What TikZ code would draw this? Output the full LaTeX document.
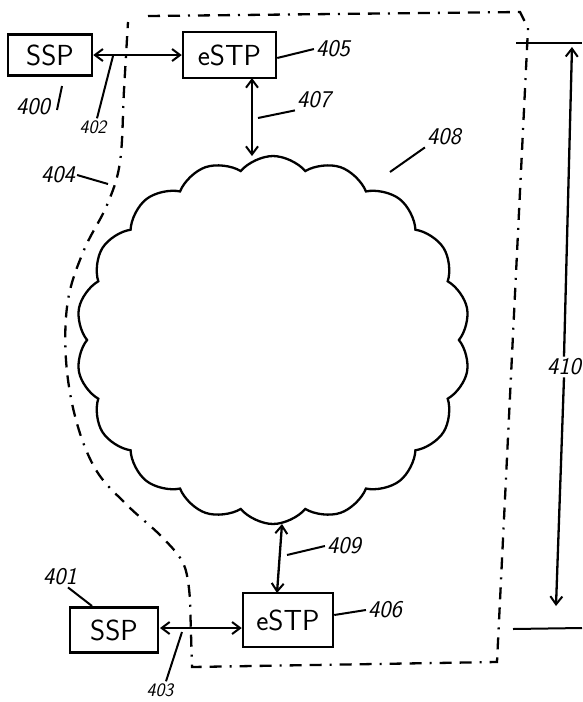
\documentclass[tikz,border=0pt]{standalone}
\usepackage{fontspec}
\usetikzlibrary{arrows.meta,shapes.symbols}
\begin{document}
\begin{tikzpicture}[x=1pt,y=-1pt,
  line width=2.3pt,
  >={Straight Barb[length=8pt,width=12pt,line width=2pt]},
  box/.style={draw,line width=2.5pt,inner sep=0pt,font=\sffamily\fontsize{29}{29}\selectfont},
  lab/.style={font=\sffamily\itshape\fontsize{24}{24}\selectfont,inner sep=1pt},
  smalllab/.style={font=\sffamily\itshape\fontsize{19}{19}\selectfont,inner sep=1pt},
  leader/.style={line width=2pt},
  boundary/.style={line width=2.3pt,dash pattern=on 12pt off 8pt on 12pt off 8pt on 2pt off 8pt}]
\useasboundingbox (0,0) rectangle (582,702);
% boxes
\node[box,minimum width=84pt,minimum height=41pt] (ssp1) at (50,55) {SSP};
\node[box,minimum width=93pt,minimum height=46pt] (estp1) at (229.5,55) {eSTP};
\node[box,minimum width=88pt,minimum height=45pt] (ssp2) at (114,630) {SSP};
\node[box,minimum width=90pt,minimum height=54pt] (estp2) at (288,620) {eSTP};
% cloud
\node[draw,cloud,cloud puffs=18,cloud puff arc=100,aspect=1.07,minimum width=394pt,minimum height=368pt,line width=2.3pt] (cloud) at (273,340) {};
% boundary 404
\draw[boundary] (148,16) -- (520,12) -- (528,28) -- (497,662) -- (192,667) -- (190,600)
  -- plot[smooth,tension=0.6] coordinates {(190,600) (184,565) (162,537) (127,505) (96,470) (76,420) (66,360) (68,300) (84,250) (107,205) (120,162) (124,90) (128,22)};
% connectors
\draw[<->] (ssp1.east) -- (estp1.west);
\coordinate (a407) at (252,156);
\coordinate (b407) at (252,78);
\draw[<->] (b407) -- (a407);
\coordinate (a409) at (282,524);
\coordinate (b409) at (277,593);
\draw[<->] (a409) -- (b409);
\coordinate (a403) at (160,628);
\draw[<->] (a403) -- (estp2.west |- a403);
% labels and leaders
\node[lab] (l400) at (33,107) {400};
\coordinate (t400a) at (57,110); \coordinate (t400b) at (62,86);
\draw[leader] (t400a) -- (t400b);
\node[smalllab] (l402) at (93,127) {402};
\coordinate (p402) at (113,56);
\draw[leader] (l402.north) ++(4,0) coordinate (q402) (q402) -- (p402);
\node[lab] (l404) at (58,175) {404};
\coordinate (p404) at (108,184);
\draw[leader] (l404.east) -- (p404);
\node[lab] (l405) at (333,49) {405};
\draw[leader] (estp1.east) ++(0,3) coordinate (q405) (q405) -- (l405.west);
\node[lab] (l407) at (314,100) {407};
\coordinate (p407) at (258,118);
\draw[leader] (p407) -- (l407.south west);
\node[lab] (l408) at (444,137) {408};
\coordinate (p408) at (390,172);
\draw[leader] (p408) -- (l408.south west);
\node[lab] (l409) at (344,546) {409};
\coordinate (p409) at (287,555);
\draw[leader] (p409) -- (l409.west);
\node[lab] (l406) at (385,610) {406};
\draw[leader] (estp2.east) ++(0,-5) coordinate (q406) (q406) -- (l406.west);
\node[lab] (l401) at (60,577) {401};
\coordinate (p401) at (92,606);
\draw[leader] (l401.south) ++(8,0) coordinate (q401) (q401) -- (p401);
\node[smalllab] (l403) at (160,690) {403};
\coordinate (p403) at (182,632);
\draw[leader] (l403.north) ++(6,0) coordinate (q403) (q403) -- (p403);
% dimension 410
\node[lab] (l410) at (564,367) {410};
\coordinate (dtop) at (572,47);
\coordinate (dbot) at (556,606);
\draw[->] (l410.north) -- (dtop);
\draw[->] (l410.south) -- (dbot);
\coordinate (h1a) at (516,43); \coordinate (h1b) at (582,43);
\coordinate (h2a) at (513,629); \coordinate (h2b) at (582,628);
\draw[leader] (h1a) -- (h1b);
\draw[leader] (h2a) -- (h2b);
\end{tikzpicture}
\end{document}
